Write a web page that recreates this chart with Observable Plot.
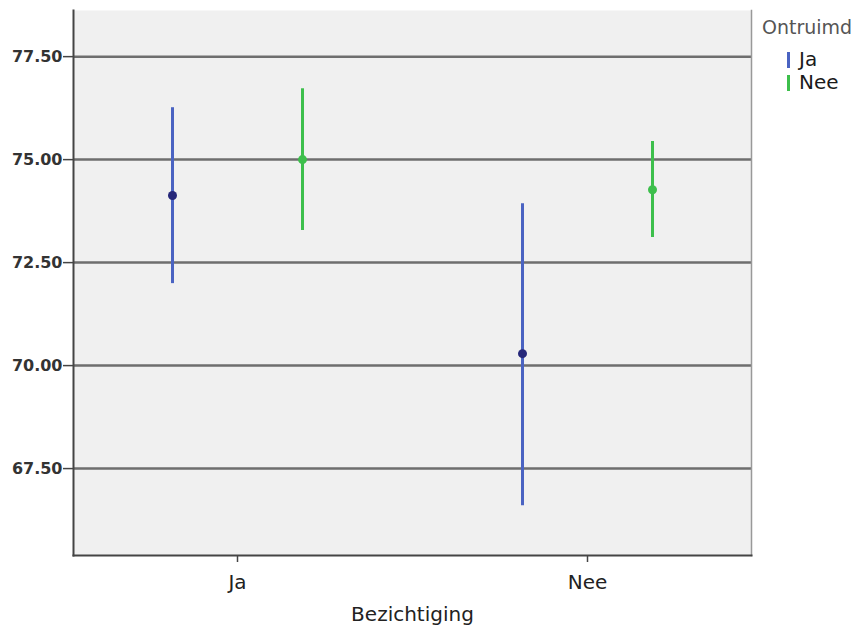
<!DOCTYPE html>
<html><head><meta charset="utf-8">
<script src="https://cdn.jsdelivr.net/npm/d3@7"></script>
<script src="https://cdn.jsdelivr.net/npm/@observablehq/plot@0.6"></script>
<style>
body{margin:0;background:#fff;}
#wrap{position:relative;width:864px;height:626px;overflow:hidden;}
#legend{position:absolute;left:762px;top:15px;font-family:"DejaVu Sans",sans-serif;}
#legend .title{font-size:19px;color:#555;line-height:24px;margin-bottom:9px;}
#legend .item{position:relative;font-size:20px;color:#1a1a1a;line-height:23px;padding-left:37px;}
#legend .item span.sw{position:absolute;left:25px;top:4px;width:3px;height:16px;}
</style></head><body>
<div id="wrap"><div id="chart"></div><div id="legend"></div></div>
<script>
const bezichtiging = ["Ja", "Ja", "Nee", "Nee"];
const ontruimd = ["Ja", "Nee", "Ja", "Nee"];
const means = [74.13, 75.00, 70.29, 74.27];
const lower = [71.99, 73.28, 66.60, 73.11];
const upper = [76.26, 76.72, 73.93, 75.44];
const yTicks = [67.5, 70, 72.5, 75, 77.5];
const xCategories = ["Ja", "Nee"];
const seriesNames = ["Ja", "Nee"];

const data = bezichtiging.map((b, i) => ({b, o: ontruimd[i], mean: means[i], lo: lower[i], hi: upper[i]}));
const lineColor = {Ja: "#4a63c2", Nee: "#3dbf4c"};
const dotColor = {Ja: "#26287a", Nee: "#3dbf4c"};
const offset = {Ja: -65, Nee: 65};

const marks = [
  Plot.frame({fill: "#f0f0f0", stroke: null}),
  Plot.ruleY(yTicks, {stroke: "#6e6e6e", strokeWidth: 2.5}),
  Plot.frame({anchor: "right", stroke: "#999", strokeWidth: 1.5}),
  Plot.frame({anchor: "left", stroke: "#444", strokeWidth: 2}),
  Plot.frame({anchor: "bottom", stroke: "#444", strokeWidth: 2}),
  Plot.axisY(yTicks, {tickFormat: d3.format(".2f"), tickSize: 10, tickPadding: 1, fontSize: 16, fontWeight: "bold", stroke: "#444", strokeWidth: 1.5, fill: "#333", label: null}),
  Plot.axisX({tickSize: 7, tickPadding: 12, fontSize: 20, fill: "#222", stroke: "#444", strokeWidth: 1.5, label: "Bezichtiging", labelAnchor: "center", labelArrow: "none", labelOffset: 65})
];
for (const o of seriesNames) {
  const sub = data.filter(d => d.o === o);
  marks.push(Plot.ruleX(sub, {x: "b", y1: "lo", y2: "hi", stroke: lineColor[o], strokeWidth: 3, dx: offset[o]}));
  marks.push(Plot.dot(sub, {x: "b", y: "mean", r: 4.5, fill: dotColor[o], stroke: "none", dx: offset[o]}));
}

const chart = Plot.plot({
  width: 864,
  height: 626,
  marginTop: 10,
  marginBottom: 71,
  marginLeft: 73,
  marginRight: 113,
  style: {fontFamily: "'DejaVu Sans', sans-serif", background: "#fff", color: "#222", fontSize: "20px"},
  x: {type: "point", domain: xCategories, padding: 0.467},
  y: {domain: [65.39, 78.62]},
  marks
});
document.getElementById("chart").appendChild(chart);

const legend = document.getElementById("legend");
legend.innerHTML = `<div class="title">Ontruimd</div>` +
  seriesNames.map(o => `<div class="item"><span class="sw" style="background:${lineColor[o]}"></span>${o}</div>`).join("");
</script>
</body></html>
